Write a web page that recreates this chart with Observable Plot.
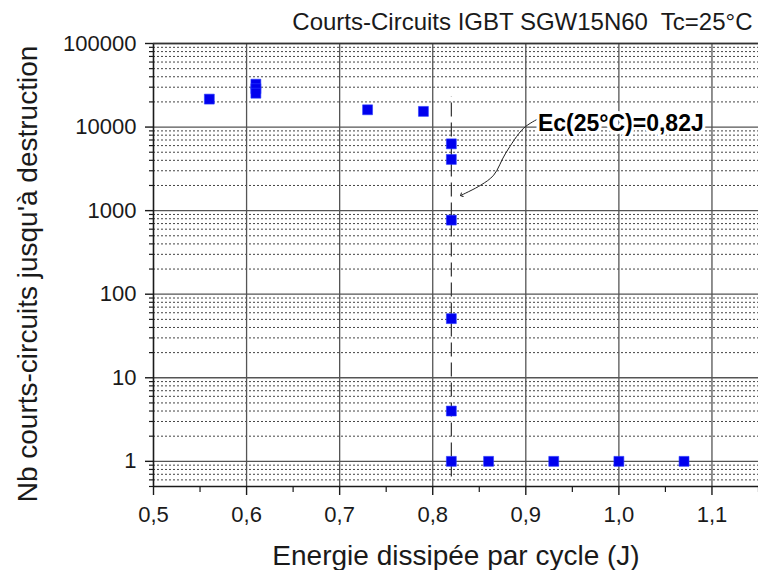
<!DOCTYPE html>
<html>
<head>
<meta charset="utf-8">
<script src="https://cdn.jsdelivr.net/npm/d3@7"></script>
<script src="https://cdn.jsdelivr.net/npm/@observablehq/plot@0.6"></script>
<style>
  html, body { margin: 0; padding: 0; background: #fff; }
  #chart svg { display: block; font-family: "Liberation Sans", Arial, sans-serif; }
</style>
</head>
<body>
<div id="chart"></div>
<script>
// Data points
const energy = [0.56, 0.61, 0.61, 0.61, 0.73, 0.79, 0.82, 0.82, 0.82, 0.82, 0.82, 0.82, 0.86, 0.93, 1.00, 1.07];
const cycles = [21600, 32600, 28800, 25400, 16100, 15400, 6300, 4100, 770, 51, 4, 1, 1, 1, 1, 1];

// Axis ticks
const xTicks = [0.5, 0.6, 0.7, 0.8, 0.9, 1.0, 1.1];
const xMinorTicks = [0.55, 0.65, 0.75, 0.85, 0.95, 1.05, 1.15];
const yTicks = [1, 10, 100, 1000, 10000, 100000];
const yMinorFactors = [2, 3, 4, 5, 6, 7, 8, 9];
const yDecades = [0.1, 1, 10, 100, 1000, 10000];

// Critical energy annotation
const criticalEnergy = 0.82;
const criticalSpan = [0.65, 23000];
const annotationLabel = "Ec(25°C)=0,82J";
const annotationAt = [0.913, 11100];
const arrowX = [0.9125, 0.8977, 0.8784, 0.8655, 0.8516, 0.8308];
const arrowY = [12420, 9700, 4874, 2660, 2018, 1532];

// Texts
const title = "Courts-Circuits IGBT SGW15N60  Tc=25°C";
const xLabel = "Energie dissipée par cycle (J)";
const yLabel = "Nb courts-circuits jusqu'à destruction";

const xDomain = [0.5, 1.15];
const yDomain = [0.5, 100000];

const points = energy.map((x, i) => ({x, y: cycles[i]}));
const arrowPts = arrowX.map((x, i) => ({x, y: arrowY[i]}));
const yMinor = yDecades.flatMap(d => yMinorFactors.map(k => k * d)).filter(v => v >= yDomain[0] && v < yDomain[1]);
const xGrid = xTicks.filter(v => v > xDomain[0]);

const font = "Liberation Sans, Arial, sans-serif";
const ink = "#1a1a1a";

const chart = Plot.plot({
  width: 758,
  height: 570,
  marginLeft: 153,
  marginRight: 0,
  marginTop: 43,
  marginBottom: 84,
  style: {fontFamily: font, fontSize: "22px", color: ink, background: "#fff"},
  x: {domain: xDomain},
  y: {type: "log", domain: yDomain},
  marks: [
    // minor dotted horizontal grid
    Plot.ruleY(yMinor, {stroke: "#444", strokeWidth: 1, strokeDasharray: "2,2"}),
    // major horizontal grid
    Plot.ruleY(yTicks, {stroke: "#555", strokeWidth: 1.3}),
    // vertical grid
    Plot.ruleX(xGrid, {stroke: "#555", strokeWidth: 1.3}),
    // axis lines
    Plot.ruleX([xDomain[0]], {stroke: ink, strokeWidth: 1.6}),
    Plot.ruleY([yDomain[0]], {stroke: ink, strokeWidth: 1.6}),
    Plot.ruleY([yDomain[1]], {stroke: "#333", strokeWidth: 1.6}),
    // axes
    Plot.axisY(yTicks, {tickSize: 8, tickPadding: 9, fontSize: 22, tickFormat: d => String(d), label: null, stroke: ink, strokeWidth: 1.4}),
    Plot.axisY(yMinor, {tickSize: 4, tickFormat: () => "", label: null, stroke: ink, strokeWidth: 1.2}),
    Plot.axisX(xTicks, {tickSize: 9, tickPadding: 11, fontSize: 22, tickFormat: d => d.toFixed(1).replace(".", ","), label: null, stroke: ink, strokeWidth: 1.4}),
    Plot.axisX(xMinorTicks, {tickSize: 6, tickFormat: () => "", label: null, stroke: ink, strokeWidth: 1.2}),
    // critical energy dashed line
    Plot.ruleX([criticalEnergy], {y1: criticalSpan[0], y2: criticalSpan[1], stroke: "#333", strokeWidth: 1.2, strokeDasharray: "14,6"}),
    // data
    Plot.dot(points, {x: "x", y: "y", symbol: "square", r: 5.6, fill: "#0000ee", stroke: "#2a3cff", strokeWidth: 0.6}),
    // annotation
    Plot.line(arrowPts, {x: "x", y: "y", curve: "catmull-rom", stroke: "#222", strokeWidth: 1, markerEnd: "arrow"}),
    Plot.text([annotationLabel], {x: annotationAt[0], y: annotationAt[1], text: d => d, textAnchor: "start", fontSize: 23, fontWeight: "bold", fill: "#000", stroke: "white", strokeWidth: 6}),
    // title
    Plot.text([title], {frameAnchor: "top-right", text: d => d, textAnchor: "end", lineAnchor: "bottom", dx: -6, dy: -14, fontSize: 24, fill: ink}),
    // axis titles
    Plot.text([xLabel], {frameAnchor: "bottom", text: d => d, textAnchor: "middle", lineAnchor: "bottom", dy: 78, fontSize: 28, fill: ink}),
    Plot.text([yLabel], {frameAnchor: "left", text: d => d, rotate: -90, textAnchor: "middle", lineAnchor: "middle", dx: -125, dy: 9, fontSize: 28, fill: ink})
  ]
});
document.getElementById("chart").appendChild(chart);
</script>
</body>
</html>
